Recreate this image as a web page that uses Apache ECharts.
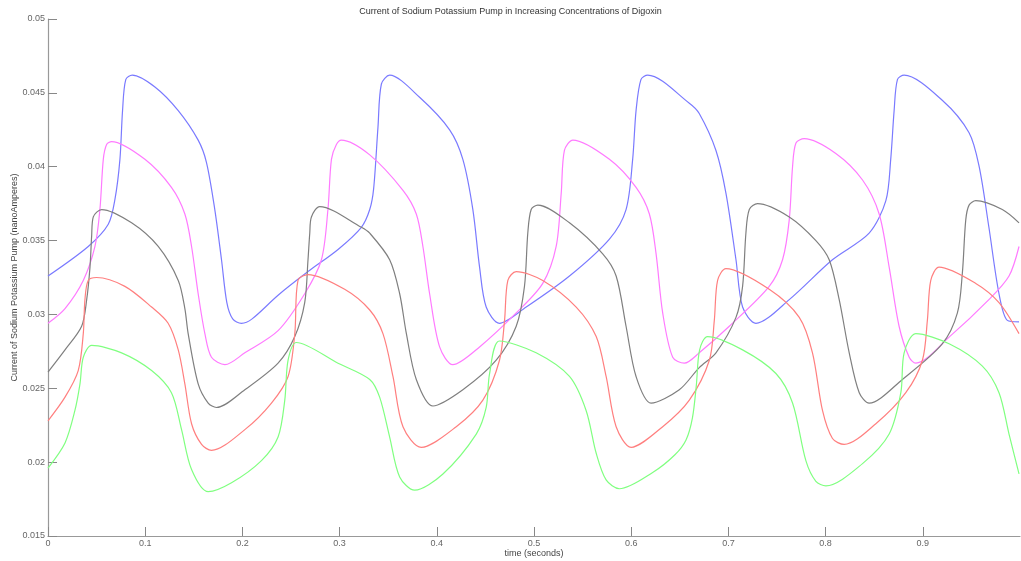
<!DOCTYPE html>
<html>
<head>
<meta charset="utf-8">
<script src="https://cdn.jsdelivr.net/npm/echarts@6/dist/echarts.min.js"></script>
<style>html,body{margin:0;padding:0;background:#fff;}#c{width:1021px;height:561px;}</style>
</head>
<body>
<div id="c"></div>
<script>
var titleText = 'Current of Sodium Potassium Pump in Increasing Concentrations of Digoxin';
var xName = 'time (seconds)';
var yName = 'Current of Sodium Potassium Pump (nanoAmperes)';

var blue = [[0,0.0326],[0.0414,0.0346],[0.062,0.0361],[0.0689,0.0378],[0.074,0.0405],[0.0767,0.0438],[0.080,0.0459],[0.0867,0.0462],[0.110,0.0454],[0.134,0.0438],[0.1545,0.0418],[0.163,0.0403],[0.1716,0.0371],[0.1785,0.0337],[0.1840,0.0308],[0.1900,0.0297],[0.199,0.0294],[0.2100,0.0297],[0.2367,0.0313],[0.2675,0.0329],[0.2984,0.0344],[0.3224,0.0359],[0.331,0.0371],[0.3350,0.0385],[0.3395,0.0427],[0.343,0.0456],[0.3515,0.0462],[0.3823,0.0447],[0.4132,0.0425],[0.4268,0.0405],[0.4371,0.0371],[0.444,0.0332],[0.4508,0.0305],[0.4645,0.0294],[0.492,0.0305],[0.5365,0.0326],[0.5776,0.0351],[0.5947,0.0371],[0.6015,0.0405],[0.605,0.0438],[0.610,0.0459],[0.617,0.0462],[0.6598,0.0443],[0.670,0.0436],[0.6872,0.0411],[0.6975,0.0382],[0.7078,0.0337],[0.7146,0.0305],[0.7283,0.0294],[0.7626,0.0310],[0.807,0.0337],[0.8448,0.0355],[0.862,0.0377],[0.867,0.0405],[0.8705,0.0438],[0.8739,0.0459],[0.8808,0.0462],[0.920,0.0445],[0.9476,0.0423],[0.958,0.0400],[0.968,0.0359],[0.9784,0.0314],[0.987,0.0296],[0.999,0.0295]];

var magenta = [[0,0.0294],[0.0175,0.0304],[0.0363,0.0323],[0.0483,0.0346],[0.0534,0.0371],[0.0569,0.0405],[0.0603,0.0415],[0.0654,0.0417],[0.0997,0.0405],[0.127,0.0386],[0.1408,0.0368],[0.1477,0.0346],[0.1545,0.0314],[0.1614,0.0287],[0.1682,0.0271],[0.182,0.0266],[0.2025,0.0274],[0.2367,0.0289],[0.2641,0.0314],[0.2813,0.0337],[0.288,0.0371],[0.2916,0.0405],[0.2967,0.0415],[0.3018,0.0418],[0.331,0.0408],[0.3652,0.0384],[0.3789,0.0368],[0.3857,0.0346],[0.3926,0.0314],[0.4029,0.0278],[0.4165,0.0266],[0.444,0.0278],[0.4817,0.0301],[0.509,0.0321],[0.5228,0.0346],[0.528,0.0382],[0.5313,0.0411],[0.540,0.0418],[0.5776,0.0405],[0.605,0.0386],[0.6187,0.0368],[0.6256,0.0341],[0.6324,0.0301],[0.6427,0.0271],[0.6547,0.0267],[0.670,0.0274],[0.7009,0.0292],[0.742,0.0319],[0.7557,0.0337],[0.7626,0.0364],[0.766,0.0400],[0.7695,0.0416],[0.778,0.0419],[0.8105,0.0409],[0.838,0.0391],[0.8551,0.0368],[0.8654,0.0332],[0.8756,0.0292],[0.886,0.0271],[0.8928,0.0267],[0.9276,0.0285],[0.968,0.0310],[0.9887,0.0326],[0.999,0.0346]];

var black = [[0,0.0261],[0.0175,0.0276],[0.0346,0.0292],[0.0398,0.0310],[0.0432,0.0332],[0.0449,0.0353],[0.0466,0.0366],[0.0552,0.0371],[0.086,0.0362],[0.1134,0.0346],[0.134,0.0323],[0.1408,0.0304],[0.1442,0.0287],[0.1545,0.0253],[0.1648,0.0240],[0.1733,0.0237],[0.2025,0.0249],[0.2367,0.0267],[0.2539,0.0285],[0.2641,0.0308],[0.2675,0.0337],[0.2693,0.0355],[0.271,0.0366],[0.2795,0.0373],[0.3224,0.0359],[0.331,0.0355],[0.3515,0.0337],[0.3618,0.0314],[0.3687,0.0287],[0.3789,0.0256],[0.396,0.0238],[0.4268,0.0249],[0.4611,0.0269],[0.4817,0.0292],[0.4902,0.0319],[0.4936,0.0355],[0.4971,0.0371],[0.5039,0.0374],[0.5365,0.0362],[0.5707,0.0341],[0.5845,0.0326],[0.5947,0.0292],[0.605,0.0258],[0.6204,0.0240],[0.6495,0.0249],[0.670,0.0264],[0.6872,0.0274],[0.7078,0.0298],[0.7146,0.0319],[0.718,0.0355],[0.7215,0.0371],[0.730,0.0375],[0.7626,0.0366],[0.790,0.0350],[0.8037,0.0337],[0.814,0.0310],[0.8243,0.0274],[0.8346,0.0247],[0.8448,0.0240],[0.879,0.0256],[0.920,0.0280],[0.9356,0.0301],[0.9407,0.0328],[0.9442,0.0364],[0.9476,0.0374],[0.9545,0.0377],[0.9818,0.0371],[0.999,0.0362]];

var red = [[0,0.0228],[0.0175,0.0244],[0.0311,0.0262],[0.0363,0.0287],[0.038,0.0310],[0.0414,0.0323],[0.05,0.0325],[0.0791,0.0319],[0.1066,0.0305],[0.1236,0.0294],[0.134,0.0276],[0.1408,0.0253],[0.1477,0.0226],[0.158,0.0212],[0.1682,0.0208],[0.2025,0.0222],[0.2299,0.0240],[0.247,0.0258],[0.2539,0.0287],[0.2572,0.0323],[0.2675,0.0327],[0.3052,0.0317],[0.331,0.0303],[0.3446,0.0287],[0.3549,0.0258],[0.3652,0.0224],[0.384,0.0210],[0.42,0.0224],[0.4474,0.0242],[0.4645,0.0269],[0.4697,0.0296],[0.4731,0.0323],[0.4817,0.0329],[0.509,0.0323],[0.5434,0.0305],[0.564,0.0285],[0.5742,0.0258],[0.5845,0.0224],[0.5999,0.0210],[0.6324,0.0224],[0.6598,0.0242],[0.6804,0.0269],[0.6855,0.0296],[0.6889,0.0323],[0.6975,0.0331],[0.742,0.0317],[0.7729,0.0298],[0.7865,0.0274],[0.7968,0.0235],[0.8071,0.0216],[0.8191,0.0212],[0.8517,0.0226],[0.8825,0.0247],[0.8996,0.0269],[0.9047,0.0296],[0.9082,0.0323],[0.9168,0.0332],[0.9545,0.0321],[0.9784,0.0308],[0.999,0.0287]];

var green = [[0,0.0196],[0.0175,0.0213],[0.0277,0.0235],[0.0329,0.0253],[0.0363,0.0271],[0.0449,0.0279],[0.0757,0.0274],[0.1066,0.0262],[0.127,0.0247],[0.1374,0.0222],[0.1477,0.0195],[0.1648,0.0180],[0.1888,0.0186],[0.2196,0.0201],[0.2367,0.0217],[0.2436,0.0242],[0.247,0.0269],[0.2555,0.0281],[0.2984,0.0267],[0.331,0.0256],[0.3412,0.0244],[0.3515,0.0217],[0.3618,0.0190],[0.3772,0.0181],[0.4063,0.0192],[0.4406,0.0219],[0.4508,0.0237],[0.4543,0.0260],[0.4645,0.0282],[0.5022,0.0274],[0.5365,0.0258],[0.5536,0.0235],[0.564,0.0206],[0.5742,0.0188],[0.5879,0.0182],[0.6221,0.0193],[0.6450,0.0205],[0.6564,0.0215],[0.6630,0.0230],[0.6670,0.0252],[0.6704,0.0276],[0.6786,0.0285],[0.7146,0.0276],[0.7489,0.0260],[0.766,0.0240],[0.7797,0.0201],[0.790,0.0187],[0.8003,0.0184],[0.838,0.0199],[0.8654,0.0219],[0.8774,0.0247],[0.8808,0.0274],[0.8928,0.0287],[0.9276,0.0280],[0.9613,0.0265],[0.9784,0.0247],[0.9887,0.0219],[0.999,0.0192]];

var seriesNames = ['blue', 'magenta', 'black', 'red', 'green'];
var seriesData = [blue, magenta, black, red, green];
var seriesColors = ['#7a7aff', '#ff7aff', '#7f7f7f', '#ff7f7f', '#80ff80'];

var chart = echarts.init(document.getElementById('c'), null, {renderer: 'canvas'});
var fontFam = '"Liberation Sans", Arial, sans-serif';
chart.setOption({
  animation: false,
  backgroundColor: '#ffffff',
  title: {
    text: titleText, left: 'center', top: 2,
    textStyle: {fontSize: 9, fontWeight: 'normal', color: '#333', fontFamily: fontFam}
  },
  grid: {left: 48, right: 1, top: 19, bottom: 25, containLabel: false, outerBoundsMode: 'none'},
  xAxis: {
    type: 'value', min: 0, max: 1, interval: 0.1,
    name: xName, nameLocation: 'middle', nameGap: 13, nameMoveOverlap: false,
    nameTextStyle: {fontSize: 9, color: '#444', fontFamily: fontFam},
    axisLine: {lineStyle: {color: '#999', width: 1.2}},
    axisTick: {inside: true, length: 9, lineStyle: {color: '#888'}},
    axisLabel: {fontSize: 9, color: '#666', margin: 3, showMaxLabel: false, fontFamily: fontFam},
    splitLine: {show: false}
  },
  yAxis: {
    type: 'value', min: 0.015, max: 0.05, interval: 0.005,
    name: yName, nameLocation: 'middle', nameGap: 29, nameMoveOverlap: false,
    nameTextStyle: {fontSize: 9, color: '#444', fontFamily: fontFam},
    axisLine: {show: true, lineStyle: {color: '#999', width: 1.2}},
    axisTick: {show: true, inside: true, length: 9, lineStyle: {color: '#888'}},
    axisLabel: {fontSize: 9, color: '#666', margin: 3, fontFamily: fontFam},
    splitLine: {show: false}
  },
  series: seriesData.map(function (d, i) {
    return {
      name: seriesNames[i], type: 'line', data: d, showSymbol: false,
      smooth: 0.3,
      lineStyle: {color: seriesColors[i], width: 1.2},
      itemStyle: {color: seriesColors[i]}
    };
  })
});
</script>
</body>
</html>
